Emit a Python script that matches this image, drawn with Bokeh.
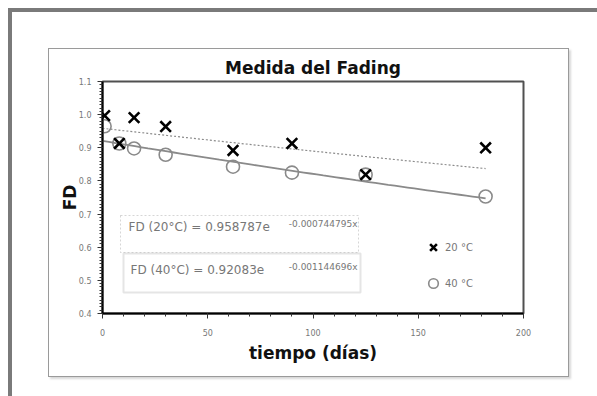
from bokeh.plotting import figure
from bokeh.models import (FixedTicker, CustomJSTickFormatter, Label, BoxAnnotation,
                          Legend, LegendItem, Range1d, InlineStyleSheet)
from bokeh.embed import file_html
from bokeh.resources import INLINE
import numpy as np

# ---- data ----
days = [1, 8, 15, 30, 62, 90, 125, 182]
fd_20 = [0.997, 0.913, 0.991, 0.964, 0.892, 0.913, 0.819, 0.900]
fd_40 = [0.965, 0.913, 0.898, 0.879, 0.843, 0.825, 0.819, 0.753]

# trendline coefficients printed on the chart
a_20, k_20 = 0.958787, 0.000744795
a_40, k_40 = 0.92083, 0.001144696

eq_20_main = "FD (20°C) = 0.958787e"
eq_20_exp = "-0.000744795x"
eq_40_main = "FD (40°C) = 0.92083e"
eq_40_exp = "-0.001144696x"

x_ticks = [0, 50, 100, 150, 200]
y_ticks = [0.4, 0.5, 0.6, 0.7, 0.8, 0.9, 1.0, 1.1]

title_text = "Medida del Fading"
x_label = "tiempo (días)"
y_label = "FD"
series_labels = ["20 °C", "40 °C"]

FONT = "DejaVu Sans"

css = InlineStyleSheet(css="""
:host { position: relative; }
:host::before { content: ""; position: absolute; left: 48px; top: 48px; width: 519px; height: 327px;
  border: 1.5px solid #9a9a9a; box-shadow: 2px 2px 2px #d8d8d8; pointer-events: none; z-index: 5; }
:host::after { content: ""; position: absolute; left: 8px; top: 8px; right: 0px; bottom: 0px;
  border-top: 4px solid #7a7a7a; border-left: 4px solid #7a7a7a; pointer-events: none; z-index: 5; }
""")

p = figure(width=597, height=396, output_backend="svg", toolbar_location=None,
           x_range=Range1d(0, 200), y_range=Range1d(0.4, 1.1),
           min_border_left=102, min_border_right=74, min_border_top=81, min_border_bottom=83,
           title=title_text, stylesheets=[css])
p.background_fill_color = "white"
p.border_fill_color = "white"
p.outline_line_color = "#505050"
p.outline_line_width = 2
p.xgrid.visible = False
p.ygrid.visible = False

p.title.align = "center"
p.title.text_font = FONT
p.title.text_font_size = "17px"
p.title.text_font_style = "bold"
p.title.text_color = "#111111"
p.title.standoff = 8

# axes
xa = p.xaxis[0]
xa.ticker = FixedTicker(ticks=x_ticks, minor_ticks=list(range(0, 201, 10)))
xa.axis_label = x_label
ya = p.yaxis[0]
ya.ticker = FixedTicker(ticks=y_ticks, minor_ticks=[round(0.4 + 0.01 * i, 2) for i in range(71)])
ya.formatter = CustomJSTickFormatter(code="return tick.toFixed(1);")
ya.axis_label = y_label
for ax in (xa, ya):
    ax.axis_line_color = "black"
    ax.axis_line_width = 2
    ax.major_tick_line_color = "#333333"
    ax.minor_tick_line_color = "#333333"
    ax.major_tick_out = 5
    ax.major_tick_in = 0
    ax.minor_tick_out = 3
    ax.minor_tick_in = 0
    ax.major_label_text_font = FONT
    ax.major_label_text_font_size = "8px"
    ax.major_label_text_color = "#777777"
    ax.axis_label_text_font = FONT
    ax.axis_label_text_font_size = "17px"
    ax.axis_label_text_font_style = "bold"
    ax.axis_label_text_color = "#111111"
xa.major_label_standoff = 10
xa.axis_label_standoff = 4
ya.major_label_standoff = 6
ya.axis_label_standoff = -4

# trendlines
xf = np.linspace(0, max(days), 60)
p.line(xf, a_20 * np.exp(-k_20 * xf), line_color="#8c8c8c", line_width=1.2, line_dash="2 2")
p.line(xf, a_40 * np.exp(-k_40 * xf), line_color="#8a8a8a", line_width=1.8)

# data points
rc = p.scatter(days, fd_40, marker="circle", size=13, line_color="#8a8a8a",
               fill_color=None, line_width=1.6)
rx = p.scatter(days, fd_20, marker="x", size=15, line_color="black", line_width=2.6)

# equation boxes (screen units relative to frame)
b1 = BoxAnnotation(left=18, right=256, top=98, bottom=61,
                   left_units="screen", right_units="screen", top_units="screen", bottom_units="screen",
                   fill_color="white", fill_alpha=1, line_color="#777777", line_width=1,
                   line_dash="2 2")
b2 = BoxAnnotation(left=21, right=258, top=60, bottom=21,
                   left_units="screen", right_units="screen", top_units="screen", bottom_units="screen",
                   fill_color="white", fill_alpha=1, line_color="#aaaaaa", line_width=2)
p.add_layout(b1)
p.add_layout(b2)

for txt, xx, yy in [(eq_20_main, 26, 87), (eq_40_main, 28, 44)]:
    p.add_layout(Label(x=xx, y=yy, x_units="screen", y_units="screen", text=txt,
                       text_font=FONT, text_font_size="12px", text_color="#777777",
                       text_baseline="middle", text_align="left"))
for txt, xx, yy in [(eq_20_exp, 255, 90), (eq_40_exp, 255, 47)]:
    p.add_layout(Label(x=xx, y=yy, x_units="screen", y_units="screen", text=txt,
                       text_font=FONT, text_font_size="9px", text_color="#777777",
                       text_baseline="middle", text_align="right"))

# legend
legend = Legend(items=[LegendItem(label=series_labels[0], renderers=[rx]),
                       LegendItem(label=series_labels[1], renderers=[rc])],
                location=(319, 18))
legend.glyph_width = 24
legend.glyph_height = 24
legend.label_height = 24
legend.spacing = 12
legend.padding = 0
legend.margin = 0
legend.label_standoff = 0
legend.border_line_alpha = 0
legend.background_fill_alpha = 0
legend.label_text_font = FONT
legend.label_text_font_size = "10px"
legend.label_text_color = "#777777"
p.add_layout(legend)

open("out.html", "w").write(file_html(p, INLINE))
